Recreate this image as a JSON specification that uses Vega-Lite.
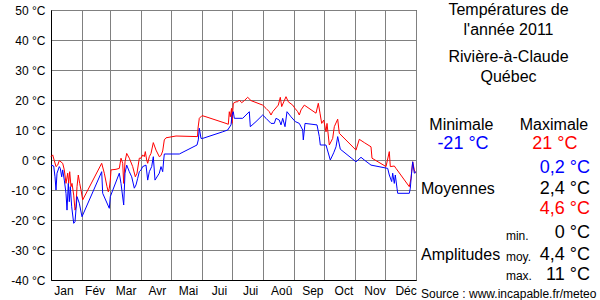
{
  "$schema": "https://vega.github.io/schema/vega-lite/v6.json",
  "padding": {"left": 10, "top": 2, "right": 0, "bottom": 0},
  "spacing": 0,
  "bounds": "flush",
  "background": "white",
  "config": {
    "font": "Liberation Sans",
    "view": {"stroke": "black", "strokeWidth": 1},
    "axis": {"labelFont": "Liberation Sans", "labelFontSize": 12, "labelColor": "black", "gridColor": "#808080", "gridOpacity": 1, "gridWidth": 1, "domainColor": "black", "ticks": false, "tickSize": 0, "title": null, "labelOverlap": false, "labelSeparation": 0, "labelBound": false, "labelFlush": false},
    "text": {"font": "Liberation Sans"}
  },
  "datasets": {
    "max": [
      {"j":0,"t":1.1},{"j":1.7,"t":1.7},{"j":3.3,"t":-0.2},{"j":5,"t":-2.2},{"j":6.7,"t":-1.7},{"j":8.3,"t":-0.2},{"j":11.7,"t":-1.1},{"j":13.3,"t":-3.3},{"j":15,"t":-7.8},{"j":16.7,"t":-4.4},{"j":17.7,"t":-7.8},{"j":18.7,"t":-3.9},{"j":20,"t":-8.9},{"j":21,"t":-7.8},{"j":22.7,"t":-11.7},{"j":24,"t":-16.7},{"j":25,"t":-15.6},{"j":26,"t":-8.9},{"j":27.3,"t":-5},{"j":28.7,"t":-7.8},{"j":30,"t":-10},{"j":31.7,"t":-13.3},
      {"j":50.7,"t":-1.1},{"j":53.3,"t":-4.4},{"j":56,"t":-8.9},{"j":57.3,"t":-10.6},{"j":58.3,"t":-9.4},{"j":59.3,"t":-6.7},{"j":60,"t":-3.3},{"j":65,"t":-3.1},{"j":68.3,"t":-2.8},{"j":70,"t":0.6},{"j":71.7,"t":-1.1},{"j":72.7,"t":-7.8},{"j":74,"t":-0.6},{"j":75.7,"t":2.2},{"j":78.3,"t":0.6},{"j":81.7,"t":-2.2},{"j":84.3,"t":-5.6},{"j":86,"t":-4.4},{"j":88.3,"t":0.6},{"j":90,"t":0.6},{"j":91.7,"t":1.7},{"j":93.3,"t":1.1},{"j":94.3,"t":2.8},{"j":95.7,"t":0},{"j":96.7,"t":-1.1},{"j":98.3,"t":1.1},{"j":100,"t":2.2},{"j":102.3,"t":5.8},{"j":105,"t":3.3},{"j":108.3,"t":1.1},{"j":110,"t":1.5},{"j":111.7,"t":3},{"j":113.3,"t":6.7},{"j":115,"t":7.4},{"j":125,"t":8},{"j":146.5,"t":7.8},{"j":147,"t":10.6},{"j":148.3,"t":13.9},{"j":151,"t":14.8},{"j":155,"t":14.4},{"j":175,"t":12.2},{"j":177.3,"t":11.9},{"j":178.3,"t":16.1},{"j":179.3,"t":14.4},{"j":180.5,"t":17.2},{"j":181,"t":12.2},{"j":182.3,"t":18.9},{"j":185,"t":19.4},{"j":186.7,"t":19.4},{"j":188.3,"t":20},{"j":190.7,"t":19.1},{"j":193.3,"t":19.8},{"j":196.7,"t":20.9},{"j":200,"t":19.8},{"j":211.7,"t":18.3},{"j":215,"t":17.2},{"j":218.3,"t":16.1},{"j":220,"t":15},{"j":221.7,"t":16.1},{"j":227.3,"t":18.3},{"j":229.3,"t":20.9},{"j":230.7,"t":17.8},{"j":235,"t":21.1},{"j":237.3,"t":19.4},{"j":241.7,"t":18.3},{"j":244,"t":17.2},{"j":246.7,"t":16.1},{"j":248.3,"t":15},{"j":250,"t":16.7},{"j":253.3,"t":18.3},{"j":265,"t":15.6},{"j":267.3,"t":18.9},{"j":269,"t":15.6},{"j":270.7,"t":12.2},{"j":272.7,"t":13.3},{"j":275,"t":9.4},{"j":276,"t":12.2},{"j":278.3,"t":5},{"j":281.7,"t":7.2},{"j":283.3,"t":11.1},{"j":286.7,"t":13.6},{"j":288.3,"t":8.9},{"j":305,"t":3.3},{"j":308.3,"t":6.9},{"j":313.3,"t":5.8},{"j":320,"t":4.4},{"j":321,"t":0.6},{"j":335,"t":-2.2},{"j":338.3,"t":2.8},{"j":339.3,"t":-2.2},{"j":343.3,"t":-2},{"j":345,"t":-2.8},{"j":358.3,"t":-8.9},{"j":360,"t":-6.1},{"j":361.7,"t":-0.6},{"j":363.3,"t":-3.3},{"j":364.3,"t":-4.4}
    ],
    "min": [
      {"j":0,"t":-1.7},{"j":2.7,"t":-2},{"j":4,"t":-5.6},{"j":5,"t":-10},{"j":6,"t":-4.4},{"j":8.3,"t":-2.2},{"j":9.3,"t":-2.8},{"j":10.7,"t":-5.6},{"j":11.7,"t":-3.3},{"j":13.3,"t":-6.7},{"j":15,"t":-11.1},{"j":16,"t":-16.7},{"j":17.3,"t":-7.8},{"j":18.3,"t":-13.9},{"j":19.3,"t":-8.9},{"j":20.7,"t":-15.6},{"j":22.7,"t":-21.1},{"j":24,"t":-20.6},{"j":26,"t":-12.2},{"j":28.3,"t":-14.4},{"j":31,"t":-18.9},
      {"j":50.7,"t":-3.9},{"j":51.7,"t":-11.1},{"j":58.3,"t":-16.1},{"j":59.3,"t":-12.2},{"j":68.3,"t":-4.4},{"j":70,"t":-7.8},{"j":72.7,"t":-15},{"j":74,"t":-4.4},{"j":75.7,"t":-1.7},{"j":78.3,"t":-3.9},{"j":80.7,"t":-5.6},{"j":83.3,"t":-9.4},{"j":85,"t":-8.3},{"j":86.7,"t":-6.1},{"j":88.3,"t":-3.9},{"j":90,"t":-3.3},{"j":91.7,"t":-2.2},{"j":95,"t":-1.7},{"j":96.7,"t":-6.7},{"j":98.3,"t":-3.9},{"j":100.7,"t":-2.2},{"j":102.3,"t":1.1},{"j":104,"t":-6.7},{"j":108.3,"t":-4.4},{"j":110,"t":-2.2},{"j":111.7,"t":-3.9},{"j":112.7,"t":0},{"j":113.3,"t":2},{"j":128.3,"t":2},{"j":146,"t":5},{"j":147.3,"t":6.7},{"j":148.3,"t":10.6},{"j":150,"t":7.2},{"j":151.7,"t":7.2},{"j":171.7,"t":9.4},{"j":176.7,"t":10},{"j":180,"t":11.7},{"j":181,"t":15},{"j":182.3,"t":16.1},{"j":183.3,"t":13.9},{"j":191.7,"t":13.9},{"j":198.3,"t":16.1},{"j":199.3,"t":11.1},{"j":205,"t":12.8},{"j":211.7,"t":15},{"j":215,"t":13.9},{"j":220,"t":12.2},{"j":223.3,"t":12.2},{"j":225,"t":13.9},{"j":228.3,"t":13.3},{"j":230,"t":11.7},{"j":231.7,"t":13.9},{"j":234,"t":11.1},{"j":236,"t":16.1},{"j":240,"t":14.4},{"j":244.3,"t":12.8},{"j":248.3,"t":12.2},{"j":251.7,"t":10},{"j":252.3,"t":6.7},{"j":254,"t":12.2},{"j":266,"t":11.7},{"j":268.3,"t":7.8},{"j":269.3,"t":5},{"j":275,"t":5},{"j":279.3,"t":0},{"j":282.7,"t":2.4},{"j":285,"t":4.4},{"j":286.7,"t":7.8},{"j":289.3,"t":3.6},{"j":305,"t":-0.6},{"j":310,"t":0.9},{"j":313.3,"t":0},{"j":320,"t":-1.7},{"j":336.7,"t":-2.8},{"j":338.3,"t":-5},{"j":340.7,"t":-7.2},{"j":341.7,"t":-4.4},{"j":343.3,"t":-7.8},{"j":344.3,"t":-5},{"j":346,"t":-9.4},{"j":346.7,"t":-11.1},{"j":358.3,"t":-11.1},{"j":359.3,"t":-9.4},{"j":360.7,"t":-3.9},{"j":361.7,"t":-0.6},{"j":363.3,"t":-4.4},{"j":365,"t":-3.9}
    ],
    "texte": [
      {"texte":"Températures de","ligne":0,"col":"titre"},
      {"texte":"l'année 2011","ligne":1,"col":"titre"},
      {"texte":"Rivière-à-Claude","ligne":2.32,"col":"titre"},
      {"texte":"Québec","ligne":3.3,"col":"titre"},
      {"texte":"Minimale","ligne":5.67,"col":"gauche"},
      {"texte":"Maximale","ligne":5.67,"col":"droite"},
      {"texte":"-21 °C","ligne":6.6,"col":"extreme_min","serie":"min"},
      {"texte":"21 °C","ligne":6.6,"col":"extreme_max","serie":"max"},
      {"texte":"0,2 °C","ligne":7.78,"col":"valeur","serie":"min"},
      {"texte":"Moyennes","ligne":8.82,"col":"libelle"},
      {"texte":"2,4 °C","ligne":8.82,"col":"valeur","serie":"moy"},
      {"texte":"4,6 °C","ligne":9.8,"col":"valeur","serie":"max"},
      {"texte":"min.","ligne":11.13,"col":"petit"},
      {"texte":"0 °C","ligne":11.0,"col":"valeur","serie":"amplitude"},
      {"texte":"Amplitudes","ligne":12.07,"col":"libelle"},
      {"texte":"moy.","ligne":12.15,"col":"petit"},
      {"texte":"4,4 °C","ligne":12.07,"col":"valeur","serie":"amplitude"},
      {"texte":"max.","ligne":13.1,"col":"petit"},
      {"texte":"11 °C","ligne":13.05,"col":"valeur","serie":"amplitude"},
      {"texte":"Source : www.incapable.fr/meteo","ligne":14.0,"col":"source"}
    ]
  },
  "hconcat": [
    {
      "width": 365,
      "height": 270,
      "layer": [
        {
          "data": {"name": "max"},
          "mark": {"type": "line", "color": "#ff0000", "strokeWidth": 1},
          "encoding": {
            "x": {"field": "j", "type": "quantitative", "scale": {"domain": [0, 365], "nice": false, "zero": false},
                  "axis": {"orient": "bottom", "values": [0,31,59,90,120,151,181,212,243,273,304,334,365], "labels": false, "grid": true, "domain": true}},
            "y": {"field": "t", "type": "quantitative", "scale": {"domain": [-40, 50], "nice": false},
                  "axis": {"values": [-40,-30,-20,-10,0,10,20,30,40,50], "labelExpr": "datum.value + ' °C'", "labelPadding": 6, "grid": true, "domain": true}}
          }
        },
        {
          "data": {"name": "min"},
          "mark": {"type": "line", "color": "#0000ff", "strokeWidth": 1},
          "encoding": {
            "x": {"field": "j", "type": "quantitative",
                  "axis": {"orient": "bottom", "values": [12.5,43.6,74.7,105.8,136.9,168,199.1,230.2,261.3,292.4,323.5,354.6], "labelExpr": "['Jan','Fév','Mar','Avr','Mai','Jui','Jui','Aoû','Sep','Oct','Nov','Déc'][round((datum.value-12.5)/31.1)]", "grid": false, "domain": false, "labelPadding": 5}},
            "y": {"field": "t", "type": "quantitative",
                  "axis": {"values": [-40,-30,-20,-10,0,10,20,30,40,50], "labelExpr": "datum.value + ' °C'", "labelPadding": 6, "grid": true, "domain": true}}
          }
        }
      ],
      "resolve": {"axis": {"x": "independent"}}
    },
    {
      "width": 185,
      "height": 270,
      "view": {"stroke": null},
      "data": {"name": "texte"},
      "encoding": {
        "y": {"field": "ligne", "type": "quantitative", "scale": {"domain": [0, 13.3], "reverse": true, "nice": false, "zero": false}, "axis": null}
      },
      "layer": [
        {"transform": [{"filter": "datum.col == 'titre'"}],
         "mark": {"type": "text", "align": "center", "baseline": "middle", "fontSize": 16, "color": "black"},
         "encoding": {"x": {"datum": 0.5, "type": "quantitative", "scale": {"domain": [0, 1], "nice": false}, "axis": null}, "text": {"field": "texte"}}},
        {"transform": [{"filter": "datum.col == 'gauche'"}],
         "mark": {"type": "text", "align": "center", "baseline": "middle", "fontSize": 16, "color": "black"},
         "encoding": {"x": {"datum": 0.245, "type": "quantitative", "scale": {"domain": [0, 1], "nice": false}, "axis": null}, "text": {"field": "texte"}}},
        {"transform": [{"filter": "datum.col == 'droite'"}],
         "mark": {"type": "text", "align": "center", "baseline": "middle", "fontSize": 16, "color": "black"},
         "encoding": {"x": {"datum": 0.746, "type": "quantitative", "scale": {"domain": [0, 1], "nice": false}, "axis": null}, "text": {"field": "texte"}}},
        {"transform": [{"filter": "datum.col == 'extreme_min'"}],
         "mark": {"type": "text", "align": "center", "baseline": "middle", "fontSize": 18},
         "encoding": {"x": {"datum": 0.254, "type": "quantitative", "scale": {"domain": [0, 1], "nice": false}, "axis": null}, "text": {"field": "texte"},
           "color": {"field": "serie", "type": "nominal", "scale": {"domain": ["min","moy","max","amplitude"], "range": ["#0000ff","#000000","#ff0000","#000000"]}, "legend": null}}},
        {"transform": [{"filter": "datum.col == 'extreme_max'"}],
         "mark": {"type": "text", "align": "center", "baseline": "middle", "fontSize": 18},
         "encoding": {"x": {"datum": 0.751, "type": "quantitative", "scale": {"domain": [0, 1], "nice": false}, "axis": null}, "text": {"field": "texte"},
           "color": {"field": "serie", "type": "nominal", "scale": {"domain": ["min","moy","max","amplitude"], "range": ["#0000ff","#000000","#ff0000","#000000"]}, "legend": null}}},
        {"transform": [{"filter": "datum.col == 'valeur'"}],
         "mark": {"type": "text", "align": "right", "baseline": "middle", "fontSize": 18},
         "encoding": {"x": {"datum": 0.94, "type": "quantitative", "scale": {"domain": [0, 1], "nice": false}, "axis": null}, "text": {"field": "texte"},
           "color": {"field": "serie", "type": "nominal", "scale": {"domain": ["min","moy","max","amplitude"], "range": ["#0000ff","#000000","#ff0000","#000000"]}, "legend": null}}},
        {"transform": [{"filter": "datum.col == 'libelle'"}],
         "mark": {"type": "text", "align": "left", "baseline": "middle", "fontSize": 16, "color": "black"},
         "encoding": {"x": {"datum": 0.027, "type": "quantitative", "scale": {"domain": [0, 1], "nice": false}, "axis": null}, "text": {"field": "texte"}}},
        {"transform": [{"filter": "datum.col == 'petit'"}],
         "mark": {"type": "text", "align": "left", "baseline": "middle", "fontSize": 12, "color": "black"},
         "encoding": {"x": {"datum": 0.486, "type": "quantitative", "scale": {"domain": [0, 1], "nice": false}, "axis": null}, "text": {"field": "texte"}}},
        {"transform": [{"filter": "datum.col == 'source'"}],
         "mark": {"type": "text", "align": "left", "baseline": "middle", "fontSize": 12, "color": "black"},
         "encoding": {"x": {"datum": 0.027, "type": "quantitative", "scale": {"domain": [0, 1], "nice": false}, "axis": null}, "text": {"field": "texte"}}}
      ]
    }
  ]
}
